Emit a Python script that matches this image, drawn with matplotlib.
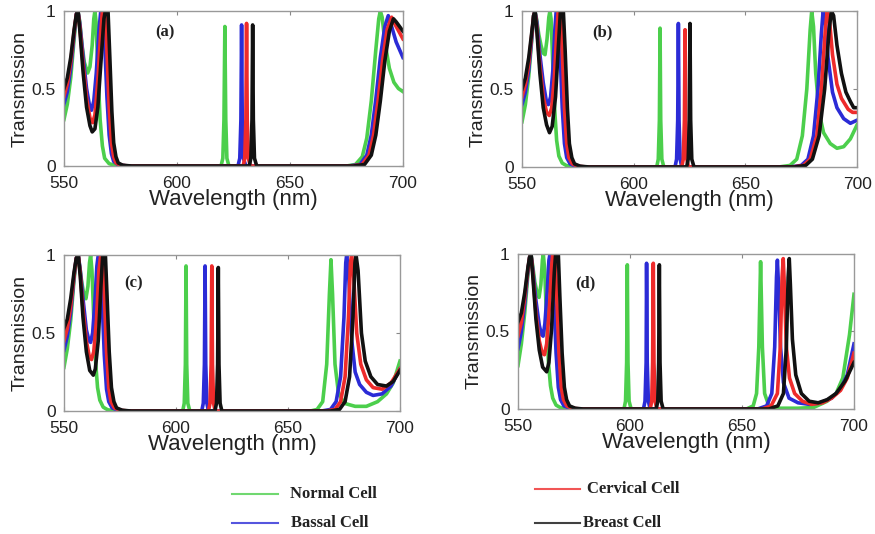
import matplotlib
matplotlib.use("Agg")
import matplotlib.pyplot as plt
from matplotlib.lines import Line2D

# Spectres de transmission (longueur d'onde en nm, transmission)

# ---- panneau (a) ----
wl_a_normal = [550, 551.5, 553, 554.5, 555.5, 556.2, 557, 558, 559, 560.5, 561.5, 562.5, 563.2, 563.7, 564.2, 565, 566, 567, 568, 570, 573, 580,
               619.5, 620.3, 620.8, 621.2, 621.6, 622.1, 623,
               675, 679, 682, 684, 686, 688, 689.3, 690, 690.8, 692, 694, 696, 698, 700]
tr_a_normal = [.30, .40, .57, .82, .97, 1.0, .93, .78, .67, .60, .64, .78, .95, 1.0, .93, .62, .30, .13, .05, .015, .003, 0,
               0, .05, .3, .90, .3, .05, 0,
               0, .01, .06, .18, .42, .75, .95, 1.0, .96, .80, .63, .54, .50, .48]
wl_a_bassal = [550, 551.5, 553, 554.5, 555.5, 556.2, 557, 558.5, 560, 561.3, 562.2, 563.2, 564.3, 565.5, 566.3, 567.3, 568, 569, 570, 571, 572, 574, 578,
               627, 627.8, 628.3, 628.6, 628.9, 629.4, 630.5,
               676, 681, 684, 686, 688, 690, 692, 693.5, 695, 697, 698.5, 700]
tr_a_bassal = [.40, .48, .63, .85, .98, 1.0, .92, .70, .50, .39, .36, .42, .60, .88, 1.0, 1.0, .80, .45, .20, .08, .03, .008, 0,
               0, .05, .3, .91, .3, .05, 0,
               0, .01, .07, .20, .43, .70, .90, .97, .90, .80, .75, .70]
wl_a_cervical = [550, 551.5, 553, 554.5, 555.5, 556.2, 557, 558.5, 560, 561.5, 562.7, 563.7, 565, 566.2, 567, 568.3, 569, 570, 571, 572, 573, 575, 579,
                 629.3, 630, 630.5, 630.8, 631.1, 631.6, 632.5,
                 677, 682, 685, 687, 689, 691, 693, 695, 697, 698.5, 700]
tr_a_cervical = [.45, .53, .67, .87, .98, 1.0, .90, .65, .44, .31, .28, .33, .55, .85, 1.0, 1.0, .75, .38, .15, .06, .02, .005, 0,
                 0, .05, .3, .92, .3, .05, 0,
                 0, .01, .07, .20, .42, .68, .88, .96, .90, .86, .82]
wl_a_breast = [550, 551.5, 553, 554.5, 555.5, 556.2, 557, 558.5, 560, 561.5, 562.5, 563.7, 565, 566.5, 567.7, 568.3, 569.5, 570.3, 571.2, 572, 573, 574, 576, 580,
               632, 632.7, 633.2, 633.5, 633.8, 634.3, 635.3,
               678, 683, 686, 688, 690, 692, 694, 695.8, 697, 698.5, 700]
tr_a_breast = [.50, .57, .70, .88, .98, 1.0, .88, .60, .38, .26, .22, .24, .38, .70, .95, 1.0, 1.0, .70, .35, .15, .06, .02, .005, 0,
               0, .05, .3, .91, .3, .05, 0,
               0, .01, .07, .20, .42, .68, .87, .95, .93, .90, .87]

# ---- panneau (b) ----
wl_b_normal = [550, 551.5, 553, 554.5, 555.2, 555.8, 556.5, 557.5, 558.5, 559.5, 560.3, 561.2, 562, 562.5, 563, 563.8, 564.7, 565.5, 566.5, 568, 570, 574,
               610.3, 611, 611.5, 611.8, 612.1, 612.6, 613.5,
               665, 670, 673, 675.5, 677.5, 679, 679.7, 680.5, 681.5, 683, 685, 688, 691, 694, 697, 700]
tr_b_normal = [.29, .40, .58, .84, .97, 1.0, .95, .85, .78, .73, .72, .82, .96, 1.0, .95, .65, .35, .17, .07, .025, .008, 0,
               0, .05, .3, .89, .3, .05, 0,
               0, .01, .05, .20, .50, .88, 1.0, .90, .60, .35, .22, .15, .12, .13, .18, .27]
wl_b_bassal = [550, 551.5, 553, 554.5, 555.2, 555.8, 556.6, 558, 559.5, 560.8, 561.8, 562.8, 563.8, 564.7, 565.3, 566.2, 567, 568, 569, 570, 571.5, 574, 578,
               618.5, 619.2, 619.7, 620, 620.3, 620.8, 621.5,
               670, 675, 678, 680.5, 682.5, 684, 684.8, 685.8, 687, 689, 691, 694, 697, 700]
tr_b_bassal = [.40, .48, .62, .85, .97, 1.0, .93, .72, .54, .43, .40, .45, .62, .88, 1.0, 1.0, .75, .38, .15, .06, .02, .005, 0,
               0, .05, .3, .92, .3, .05, 0,
               0, .01, .05, .20, .50, .85, 1.0, .95, .70, .48, .38, .31, .28, .30]
wl_b_cervical = [550, 551.5, 553, 554.5, 555.2, 555.8, 556.6, 558, 559.5, 561, 562.2, 563.3, 564.5, 565.5, 566.2, 567.3, 568, 569, 570, 571, 572.5, 575, 579,
                 621.5, 622.2, 622.7, 623, 623.3, 623.8, 624.5,
                 671, 676, 679, 682, 684, 685.7, 686.6, 687.6, 689, 691, 693, 696, 698, 700]
tr_b_cervical = [.45, .53, .66, .87, .97, 1.0, .90, .65, .45, .35, .33, .38, .58, .85, 1.0, 1.0, .75, .38, .15, .06, .02, .005, 0,
                 0, .05, .3, .88, .3, .05, 0,
                 0, .01, .05, .20, .50, .86, 1.0, .95, .72, .53, .44, .37, .35, .35]
wl_b_breast = [550, 551.5, 553, 554.5, 555.2, 555.8, 556.6, 558, 559.5, 561, 562.3, 563.5, 565, 566.3, 567.2, 568.5, 569.3, 570.3, 571.2, 572.3, 573.5, 576, 580,
               623.7, 624.4, 624.9, 625.2, 625.5, 626, 627,
               672, 677, 680, 683, 685.5, 687.5, 688.5, 689.5, 691, 693, 695, 697, 698.5, 700]
tr_b_breast = [.50, .57, .70, .88, .97, 1.0, .88, .60, .38, .27, .22, .26, .45, .78, 1.0, 1.0, .75, .38, .15, .06, .02, .005, 0,
               0, .05, .3, .92, .3, .05, 0,
               0, .01, .05, .20, .50, .88, 1.0, .97, .78, .60, .48, .42, .38, .38]

# ---- panneau (c) ----
wl_c_normal = [550, 551.5, 553, 554.5, 555.5, 556.2, 557, 558, 559, 559.8, 560.7, 561.4, 561.9, 562.5, 563.3, 564.2, 565, 566, 567.5, 569.5, 573,
               603, 603.7, 604.2, 604.5, 604.8, 605.3, 606.2,
               660, 663, 665.5, 667.3, 668.5, 669.2, 669.9, 671, 672.5, 675, 680, 685, 690, 694, 697, 700]
tr_c_normal = [.28, .40, .58, .84, .97, 1.0, .93, .82, .74, .72, .80, .95, 1.0, .90, .60, .30, .15, .07, .025, .008, 0,
               0, .05, .3, .93, .3, .05, 0,
               0, .01, .06, .30, .75, .97, .75, .30, .12, .05, .03, .03, .06, .11, .18, .32]
wl_c_bassal = [550, 551.5, 553, 554.5, 555.5, 556.4, 557.3, 558.5, 560, 561.2, 561.9, 562.8, 563.8, 564.7, 565.3, 566.2, 567, 568, 569, 570, 571.5, 574, 578,
               611.5, 612.2, 612.7, 613, 613.3, 613.8, 614.5,
               665, 669, 671.5, 673.5, 675, 675.8, 676.2, 677, 678.5, 680, 682, 685, 688, 692, 696, 700]
tr_c_bassal = [.39, .48, .63, .86, .98, 1.0, .90, .72, .52, .45, .44, .50, .70, .93, 1.0, 1.0, .72, .36, .14, .06, .02, .005, 0,
               0, .05, .3, .93, .3, .05, 0,
               0, .01, .06, .22, .60, .95, 1.0, .90, .45, .25, .17, .12, .10, .11, .16, .27]
wl_c_cervical = [550, 551.5, 553, 554.5, 555.5, 556.4, 557.3, 558.5, 560, 561.3, 562.3, 563.3, 564.5, 565.6, 566.4, 567.4, 568, 569, 570, 571, 572.5, 575, 579,
                 614.5, 615.2, 615.7, 616, 616.3, 616.8, 617.5,
                 667, 671, 673.5, 675.5, 677, 677.9, 678.4, 679.2, 680.7, 682.5, 685, 688, 692, 696, 700]
tr_c_cervical = [.45, .53, .67, .87, .98, 1.0, .88, .65, .45, .35, .33, .38, .58, .90, 1.0, 1.0, .75, .38, .15, .06, .02, .005, 0,
                 0, .05, .3, .93, .3, .05, 0,
                 0, .01, .06, .22, .60, .95, 1.0, .90, .50, .30, .20, .15, .14, .18, .27]
wl_c_breast = [550, 551.5, 553, 554.5, 555.5, 556.4, 557.3, 558.5, 560, 561.5, 563.1, 564, 565.3, 566.5, 567.3, 568.5, 569.2, 570.2, 571.2, 572.3, 573.5, 576, 580,
               617.4, 618.1, 618.6, 618.9, 619.2, 619.7, 620.5,
               669, 673, 675.5, 677.5, 679, 679.9, 680.4, 681.3, 682.8, 684.5, 687, 690, 694, 697, 700]
tr_c_breast = [.53, .59, .72, .89, .98, 1.0, .86, .60, .38, .26, .23, .27, .45, .80, 1.0, 1.0, .75, .38, .15, .06, .02, .005, 0,
               0, .05, .3, .92, .3, .05, 0,
               0, .01, .06, .22, .60, .95, 1.0, .90, .50, .32, .22, .17, .16, .19, .26]

# ---- panneau (d) ----
wl_d_normal = [550, 551.5, 553, 554.5, 555.2, 555.8, 556.6, 557.5, 558.5, 559.4, 560.2, 560.9, 561.3, 561.9, 562.7, 563.6, 564.5, 565.5, 567, 569, 572,
               597.3, 598, 598.5, 598.8, 599.1, 599.6, 600.5,
               652, 655, 656.5, 657.5, 658.3, 659.1, 660.1, 662, 666, 675, 682, 688, 692, 695, 698, 700]
tr_d_normal = [.28, .42, .62, .88, .98, 1.0, .92, .82, .75, .72, .80, .96, 1.0, .90, .60, .30, .15, .07, .025, .008, 0,
               0, .05, .3, .93, .3, .05, 0,
               0, .02, .10, .40, .95, .40, .10, .02, .005, .005, .01, .05, .10, .20, .48, .74]
wl_d_bassal = [550, 551.5, 553, 554.5, 555.2, 555.8, 556.6, 558, 559.5, 560.5, 561.2, 562, 563, 563.8, 564.3, 565.3, 566, 567, 568, 569, 570.5, 573, 577,
               606, 606.7, 607.2, 607.4, 607.7, 608.2, 609,
               657, 661, 663.3, 664.6, 665.4, 665.8, 666.3, 667.2, 668.5, 671, 675, 680, 685, 690, 694, 697, 700]
tr_d_bassal = [.39, .50, .68, .90, .98, 1.0, .90, .70, .54, .48, .47, .55, .75, .96, 1.0, 1.0, .72, .36, .14, .06, .02, .005, 0,
               0, .05, .3, .94, .3, .05, 0,
               0, .02, .10, .40, .85, .96, .80, .40, .17, .07, .04, .03, .04, .07, .13, .22, .42]
wl_d_cervical = [550, 551.5, 553, 554.5, 555.2, 555.8, 556.6, 558, 559.5, 560.8, 561.8, 562.8, 564, 565, 565.5, 566.6, 567.3, 568.3, 569.3, 570.3, 571.8, 574, 578,
                 609, 609.7, 610.1, 610.4, 610.7, 611.2, 612,
                 659, 663, 665.8, 667.1, 667.9, 668.4, 668.9, 669.8, 671.2, 673.5, 677, 681, 686, 690, 694, 697, 700]
tr_d_cervical = [.47, .56, .72, .91, .98, 1.0, .88, .62, .44, .36, .35, .42, .65, .92, 1.0, 1.0, .72, .36, .14, .06, .02, .005, 0,
                 0, .05, .3, .94, .3, .05, 0,
                 0, .02, .10, .40, .85, .97, .80, .40, .20, .10, .05, .03, .04, .07, .12, .20, .36]
wl_d_breast = [550, 551.5, 553, 554.5, 555.2, 555.8, 556.6, 558, 559.5, 561, 562.8, 563.8, 565, 566.2, 566.8, 568, 568.7, 569.7, 570.7, 571.7, 573, 575.5, 579,
               611.7, 612.4, 612.8, 613.1, 613.4, 613.9, 614.8,
               662, 666, 668.5, 669.8, 670.6, 671.1, 671.6, 672.5, 674, 676.5, 680, 684, 688, 692, 696, 700]
tr_d_breast = [.56, .62, .75, .92, .98, 1.0, .86, .58, .38, .27, .24, .30, .52, .88, 1.0, 1.0, .72, .36, .14, .06, .02, .005, 0,
               0, .05, .3, .93, .3, .05, 0,
               0, .02, .10, .40, .85, .97, .80, .45, .22, .10, .05, .04, .06, .10, .18, .30]

cells = ['Normal Cell', 'Bassal Cell', 'Cervical Cell', 'Breast Cell']
colors = ['#4ccf4c', '#2b2bd6', '#ee2b2b', '#111111']
panel_labels = ['(a)', '(b)', '(c)', '(d)']

panels = [
    [(wl_a_normal, tr_a_normal), (wl_a_bassal, tr_a_bassal), (wl_a_cervical, tr_a_cervical), (wl_a_breast, tr_a_breast)],
    [(wl_b_normal, tr_b_normal), (wl_b_bassal, tr_b_bassal), (wl_b_cervical, tr_b_cervical), (wl_b_breast, tr_b_breast)],
    [(wl_c_normal, tr_c_normal), (wl_c_bassal, tr_c_bassal), (wl_c_cervical, tr_c_cervical), (wl_c_breast, tr_c_breast)],
    [(wl_d_normal, tr_d_normal), (wl_d_bassal, tr_d_bassal), (wl_d_cervical, tr_d_cervical), (wl_d_breast, tr_d_breast)],
]

# positions des axes (fraction de la figure)
positions = [[0.0731, 0.6891, 0.3874, 0.2903],
             [0.5966, 0.6873, 0.3829, 0.2921],
             [0.0731, 0.2303, 0.3840, 0.2921],
             [0.5920, 0.2341, 0.3840, 0.2903]]
label_pos = [(0.27, 0.86), (0.21, 0.86), (0.18, 0.82), (0.17, 0.81)]

plt.rcParams['font.family'] = ['Liberation Sans', 'DejaVu Sans']

fig = plt.figure(figsize=(8.75, 5.34), dpi=100)

for i in range(4):
    ax = fig.add_axes(positions[i])
    for (wl, tr), c in zip(panels[i], colors):
        ax.plot(wl, tr, color=c, lw=2.6, solid_joinstyle='round')
    ax.set_xlim(550, 700)
    ax.set_ylim(0, 1)
    ax.set_xticks([550, 600, 650, 700])
    ax.set_yticks([0, 0.5, 1])
    ax.set_yticklabels(['0', '0.5', '1'])
    ax.tick_params(direction='in', length=3, width=0.8, top=True, right=True,
                   labelsize=12.5, colors='#888888', labelcolor='#222222')
    ax.tick_params(axis='x', pad=7)
    ax.tick_params(axis='y', pad=6)
    for s in ax.spines.values():
        s.set_color('#999999')
        s.set_linewidth(1.0)
    ax.set_xlabel('Wavelength (nm)', fontsize=16, color='#222222', labelpad=-1)
    ax.set_ylabel('Transmission', fontsize=14, color='#222222', labelpad=2)
    ax.text(label_pos[i][0], label_pos[i][1], panel_labels[i], transform=ax.transAxes,
            fontsize=12, fontweight='bold', family='Liberation Serif', color='#222222',
            va='center', ha='left')

# legende dessinee a la main, comme dans la figure d'origine
leg_lines = [(0.265, 0.318, 0.075), (0.265, 0.318, 0.021), (0.611, 0.663, 0.084), (0.611, 0.663, 0.021)]
leg_text = [(0.331, 0.075), (0.333, 0.021), (0.671, 0.084), (0.666, 0.021)]
for (x0, x1, y), (tx, ty), c, name in zip(leg_lines, leg_text, colors, cells):
    fig.add_artist(Line2D([x0, x1], [y, y], transform=fig.transFigure, color=c, lw=1.5, alpha=0.8))
    fig.text(tx, ty, name, fontsize=12, fontweight='bold', family='Liberation Serif',
             color='#222222', va='center', ha='left')

fig.savefig('out.png', dpi=100)
